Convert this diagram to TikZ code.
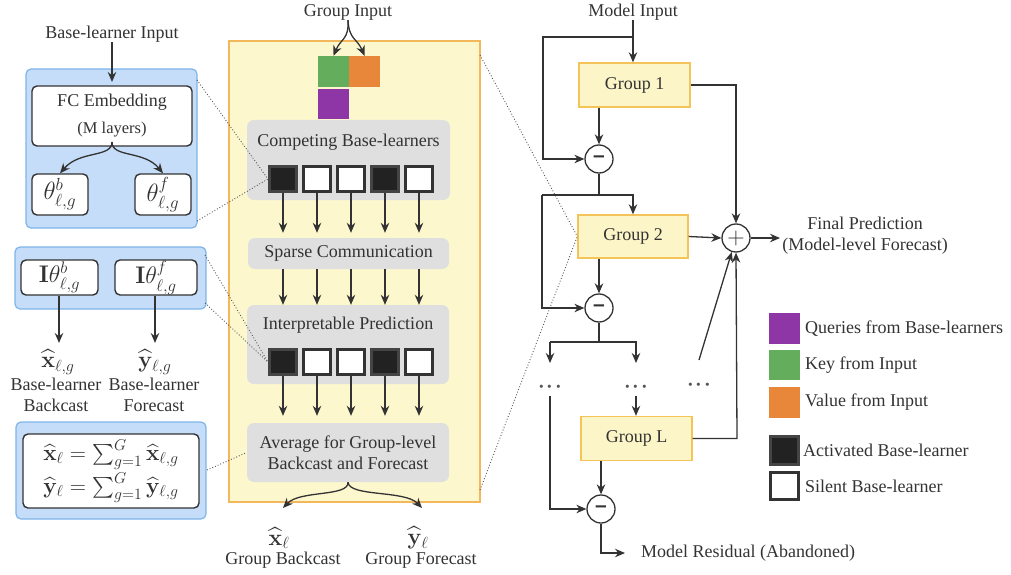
\RequirePackage{fix-cm}
\documentclass[tikz,border=0pt]{standalone}
\usepackage{amsmath}
\usepackage[no-math]{fontspec}
\setmainfont{Liberation Serif}
\newfontfamily\opfont{Liberation Sans}
\usetikzlibrary{arrows.meta,calc}
\definecolor{tc}{HTML}{333333}
\definecolor{lc}{HTML}{333333}
\definecolor{blueF}{HTML}{C5DDF8}
\definecolor{blueD}{HTML}{7FB5EA}
\definecolor{panelF}{HTML}{FDF7CD}
\definecolor{panelD}{HTML}{F3B75C}
\definecolor{grpF}{HTML}{FCF5C7}
\definecolor{grpD}{HTML}{F5C458}
\definecolor{grayF}{HTML}{DFDFDF}
\definecolor{purp}{HTML}{8E36A5}
\definecolor{grn}{HTML}{63AD5C}
\definecolor{orng}{HTML}{E8873A}
\definecolor{blk}{HTML}{222222}
\definecolor{sqd}{HTML}{444444}
\definecolor{dotc}{HTML}{555555}
\tikzset{
  txt/.style={text=tc, inner sep=0pt},
  arr/.style={draw=lc, line width=1.3pt, -{Stealth[length=10pt,width=8.5pt]}},
  ln/.style={draw=lc, line width=1.3pt},
  dotl/.style={draw=dotc, line width=0.9pt, dotted},
  bluebox/.style={fill=blueF, draw=blueD, line width=1.2pt, rounded corners=5pt, inner sep=0pt},
  wbox/.style={fill=white, draw=lc, line width=1.4pt, rounded corners=5pt, inner sep=0pt, text=tc},
  gbox/.style={fill=grayF, draw=none, rounded corners=7pt, inner sep=0pt, text=tc},
  panel/.style={fill=panelF, draw=panelD, line width=1.2pt, inner sep=0pt},
  grp/.style={fill=grpF, draw=grpD, line width=1.4pt, inner sep=0pt, minimum width=111, minimum height=44, text=tc},
  opn/.style={circle, fill=white, draw=lc, line width=1.3pt, minimum size=28pt, inner sep=0pt, text=tc},
  sqon/.style={fill=blk, draw=sqd, line width=2.6pt, minimum width=27.5, minimum height=25.5, inner sep=0pt},
  sqoff/.style={fill=white, draw=lc, line width=2.6pt, minimum width=27.5, minimum height=25.5, inner sep=0pt},
  colsq/.style={fill=#1, draw=none, minimum width=31, minimum height=31, inner sep=0pt},
  theta/.style={font=\fontsize{25}{27}\selectfont},
  itheta/.style={font=\fontsize{24}{26}\selectfont},
  mlab/.style={txt, font=\fontsize{23}{25}\selectfont},
  minus/.style={opn, font=\opfont\bfseries\fontsize{21}{21}\selectfont},
  dots/.style={txt, text=dotc, font=\fontsize{31}{31}\selectfont},
}
\begin{document}
\begin{tikzpicture}[x=1pt,y=-1pt,font=\fontsize{18}{21}\selectfont]
\useasboundingbox (0,0) rectangle (1011,575);

% ---------------- left column ----------------
\node[txt] (bli) at (112,34) {Base-learner Input};
\node[bluebox, minimum width=171, minimum height=159] (b1) at (111.5,148.5) {};
\node[wbox, minimum width=160, minimum height=60, align=center] (fc) at (112,116)
  {FC Embedding\\[6pt]{\fontsize{16.5}{19}\selectfont (M layers)}};
\node[wbox, minimum width=56, minimum height=41, theta] (tb) at (60,194.5) {$\theta^{b}_{\ell,g}$};
\node[wbox, minimum width=56, minimum height=41, theta] (tf) at (163,194.5) {$\theta^{f}_{\ell,g}$};
\draw[arr] (bli.south) -- (fc.north |- 0,82);
\draw[arr] (fc.south |- 0,142) .. controls (112,158) and (80,150) .. (tb.north);
\draw[arr] (fc.south |- 0,142) .. controls (112,158) and (144,150) .. (tf.north);

\node[bluebox, minimum width=191, minimum height=62] (b2) at (110.5,278) {};
\node[wbox, minimum width=77, minimum height=35, itheta] (ib) at (59.5,277.5) {$\mathbf{I}\theta^{b}_{\ell,g}$};
\node[wbox, minimum width=82, minimum height=35, itheta] (if) at (156,277.5) {$\mathbf{I}\theta^{f}_{\ell,g}$};
\node[mlab] (xg) at (58,362) {$\widehat{\mathbf{x}}_{\ell,g}$};
\node[mlab] (yg) at (155,362) {$\widehat{\mathbf{y}}_{\ell,g}$};
\node[txt, align=center] (xgl) at (56,395) {Base-learner\\Backcast};
\node[txt, align=center] (ygl) at (154,395) {Base-learner\\Forecast};
\coordinate (xga) at (59,343);
\coordinate (yga) at (155,343);
\draw[arr] (ib.south -| xga) -- (xga);
\draw[arr] (if.south -| yga) -- (yga);

\node[bluebox, minimum width=190, minimum height=97] (b3) at (111,470.5) {};
\node[wbox, minimum width=176, minimum height=74, align=center,
      font=\fontsize{22.5}{33}\selectfont] (sum) at (111,471)
  {$\widehat{\mathbf{x}}_{\ell}=\sum_{g=1}^{G}\widehat{\mathbf{x}}_{\ell,g}$\\
   $\widehat{\mathbf{y}}_{\ell}=\sum_{g=1}^{G}\widehat{\mathbf{y}}_{\ell,g}$};

% ---------------- middle panel ----------------
\node[panel, minimum width=251, minimum height=461] (yp) at (354.5,271.5) {};
\node[txt] (gi) at (348,12) {Group Input};
\node[colsq=grn] (key) at (333.5,71.5) {};
\node[colsq=orng] (val) at (364.5,71.5) {};
\node[colsq=purp, minimum height=30] (qry) at (333.5,104) {};
\draw[arr] (gi.south) .. controls (349,40) and (341,38) .. (key.north);
\draw[arr] (gi.south) .. controls (349,40) and (357,38) .. (val.north);

\node[gbox, minimum width=203, minimum height=80] (cb) at (348.5,160) {};
\node[txt] (cbt) at (348.5,142) {Competing Base-learners};
\node[gbox, minimum width=201, minimum height=31] (sc) at (348.5,253.5) {Sparse Communication};
\node[gbox, minimum width=202, minimum height=79] (ip) at (348,344.5) {};
\node[txt] (ipt) at (348,325) {Interpretable Prediction};
\node[gbox, minimum width=202, minimum height=59, align=center] (av) at (348,452.5)
  {Average for Group-level\\Backcast and Forecast};

\foreach \i/\x/\s in {1/283/sqon,2/317/sqoff,3/351/sqoff,4/385/sqon,5/419/sqoff}{
  \node[\s] (c\i) at (\x,179) {};
  \node[\s] (q\i) at (\x,362) {};
  \draw[arr, shorten >=5pt] (c\i.south) -- (c\i.south |- sc.north);
  \draw[arr] (c\i.south |- sc.south) -- (c\i.south |- ip.north);
  \draw[arr, shorten >=7pt] (q\i.south) -- (q\i.south |- av.north);
}

\node[mlab] (xl) at (279,538) {$\widehat{\mathbf{x}}_{\ell}$};
\node[mlab] (yl) at (418,538) {$\widehat{\mathbf{y}}_{\ell}$};
\node[txt] (xll) at (283,560) {Group Backcast};
\node[txt] (yll) at (421,560) {Group Forecast};
\coordinate (bxe) at (283,508);
\coordinate (bye) at (422,508);
\draw[arr] (av.south) .. controls (349,497) and (300,490) .. (bxe);
\draw[arr] (av.south) .. controls (349,497) and (405,490) .. (bye);

% ---------------- dotted zoom lines ----------------
\draw[dotl] (197,80) -- (c1.west);
\draw[dotl] (197,221) -- (c1.west);
\draw[dotl] (205,255) -- (q1.west);
\draw[dotl] (205,303) -- (q1.west);
\draw[dotl] (207,470) -- (av.west);

% ---------------- right panel ----------------
\node[txt] (mi) at (633,12) {Model Input};
\node[grp] (g1) at (634.5,85) {Group 1};
\node[grp, minimum width=110, minimum height=43] (g2) at (633,236.5) {Group 2};
\node[grp] (g3) at (636.5,438.5) {Group L};
\node[minus] (m1) at (599,159) {–};
\node[minus] (m2) at (599,308) {–};
\node[minus] (m3) at (601,509) {–};
\node[opn, font=\fontsize{24}{24}\selectfont] (p) at (736,238) {$+$};
\draw[dotl] (480,55) -- (g2.west);
\draw[dotl] (480,490) -- (g2.west);

\coordinate (mib) at (633,37);
\draw[arr] (mi.south) -- (g1.north -| mi);
\draw[arr] (mib) -- (543,37) -- (543,159) -- (m1.west);
\draw[arr] (g1.south -| m1) -- (m1.north);
\coordinate (j1) at (599,195);
\draw[ln] (m1.south) -- (j1);
\draw[arr] (542,195) -- (633,195) -- (g2.north -| 633,0);
\draw[arr] (542,195) -- (542,308) -- (m2.west);
\draw[arr] (g2.south -| m2) -- (m2.north);
\draw[arr] (g1.east) -- (736,85) -- (p.north);
\draw[arr] (g2.east) -- (p.west);
\node[txt, align=center] (fp) at (865,236) {Final Prediction\\(Model-level Forecast)};
\coordinate (fpa) at (780,238);
\draw[arr] (p.east) -- (fpa);

\node[dots] (d1) at (550,388) {${\cdot}{\cdot}{\cdot}$};
\node[dots] (d2) at (636,388) {${\cdot}{\cdot}{\cdot}$};
\node[dots] (d3) at (699,386) {${\cdot}{\cdot}{\cdot}$};
\draw[ln] (m2.south) -- (599,342);
\draw[arr] (550,342) -- (636,342) -- (636,363);
\draw[arr] (550,342) -- (550,363);
\draw[arr] (636,396) -- (g3.north -| 636,0);
\draw[arr] (699,360) -- (p);
\draw[arr] (g3.east) -- (737,438.5) -- (p.south);
\draw[arr] (g3.south -| m3) -- (m3.north);
\draw[arr] (550,396) -- (550,509) -- (m3.west);
\coordinate (mra) at (625,553);
\draw[arr] (m3.south) -- (601,553) -- (mra);
\node[txt, anchor=west] (mr) at (641,553) {Model Residual (Abandoned)};

% ---------------- legend ----------------
\node[colsq=purp] (lp) at (784.5,328.5) {};
\node[colsq=grn, minimum height=30] (lg) at (784.5,365) {};
\node[colsq=orng] (lo) at (784.5,402.5) {};
\node[sqon, minimum width=28, minimum height=28, line width=3pt] (la) at (784.5,450.5) {};
\node[sqoff, minimum width=28, minimum height=27, line width=3pt] (ls) at (784.5,486) {};
\node[txt, anchor=west] at (805,328.5) {Queries from Base-learners};
\node[txt, anchor=west] at (805,365) {Key from Input};
\node[txt, anchor=west] at (805,402.5) {Value from Input};
\node[txt, anchor=west] at (803,450.5) {Activated Base-learner};
\node[txt, anchor=west] at (805,486) {Silent Base-learner};
\end{tikzpicture}
\end{document}
